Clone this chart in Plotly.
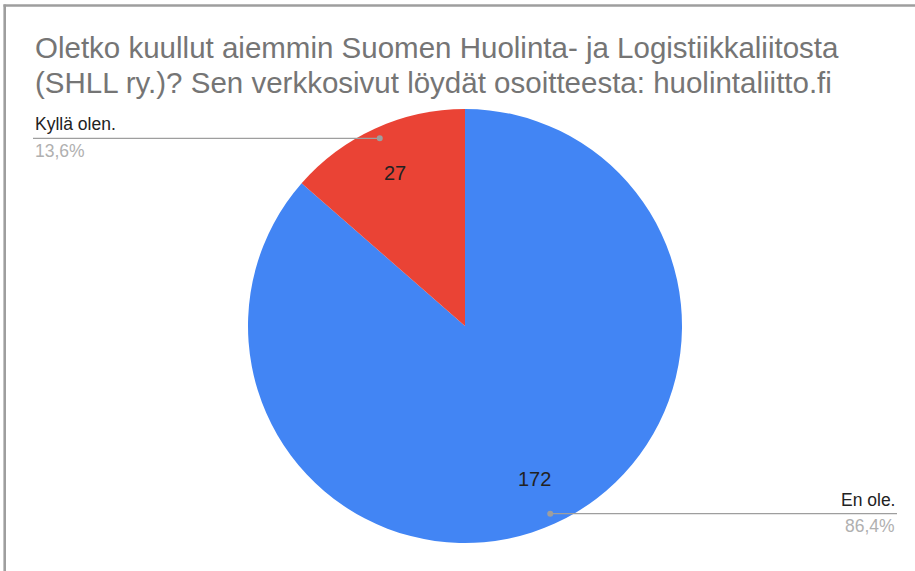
import math
import plotly.graph_objects as go

# ---- data ----
labels = ["En ole.", "Kyllä olen."]
values = [172, 27]
colors = ["#4285F4", "#EA4335"]
title_lines = [
    "Oletko kuullut aiemmin Suomen Huolinta- ja Logistiikkaliitosta",
    "(SHLL ry.)? Sen verkkosivut löydät osoitteesta: huolintaliitto.fi",
]

# ---- layout geometry (pixels) ----
W, H = 915, 571
CX, CY, R = 465, 326, 217
LEFT_X, RIGHT_X = 33, 897
FONT = "Liberation Sans, Arial, sans-serif"

def px(x):
    return x / W

def py(y):
    return 1 - y / H

fig = go.Figure(
    go.Pie(
        labels=labels,
        values=values,
        sort=False,
        direction="clockwise",
        rotation=0,
        marker=dict(colors=colors, line=dict(width=0)),
        textinfo="none",
        domain=dict(x=[px(CX - R), px(CX + R)], y=[py(CY + R), py(CY - R)]),
        showlegend=False,
        hoverinfo="label+value+percent",
    )
)

annotations = []
shapes = []
total = sum(values)
cum = 0
for lab, v in zip(labels, values):
    mid = (cum + v / 2) / total * 2 * math.pi  # clockwise from top
    cum += v
    s, c = math.sin(mid), math.cos(mid)
    # value label inside slice
    vx, vy = CX + 0.775 * R * s, CY - 0.775 * R * c
    annotations.append(dict(
        x=px(vx), y=py(vy), xref="paper", yref="paper", text=str(v),
        showarrow=False, xanchor="center", yanchor="middle",
        font=dict(family=FONT, size=20, color="#222222"),
    ))
    # leader dot and line
    dx, dy = CX + 0.95 * R * s, CY - 0.95 * R * c
    endx = LEFT_X if s < 0 else RIGHT_X
    shapes.append(dict(type="line", xref="paper", yref="paper",
                       x0=px(dx), y0=py(dy), x1=px(endx), y1=py(dy),
                       line=dict(color="#9e9e9e", width=1.3)))
    shapes.append(dict(type="circle", xref="paper", yref="paper",
                       x0=px(dx - 3), x1=px(dx + 3), y0=py(dy + 3), y1=py(dy - 3),
                       fillcolor="#9e9e9e", line=dict(width=0)))
    anchor = "left" if s < 0 else "right"
    pct = f"{v / total * 100:.1f}".replace(".", ",") + "%"
    annotations.append(dict(
        x=px(endx), y=py(dy - 14), xref="paper", yref="paper", text=lab,
        showarrow=False, xanchor=anchor, yanchor="middle",
        font=dict(family=FONT, size=17.5, color="#222222"),
    ))
    annotations.append(dict(
        x=px(endx), y=py(dy + 12.5), xref="paper", yref="paper", text=pct,
        showarrow=False, xanchor=anchor, yanchor="middle",
        font=dict(family=FONT, size=17.5, color="#b0b0b0"),
    ))

# title, one annotation per line
TITLE_SIZE = 29.5
for i, line in enumerate(title_lines):
    baseline = 58 + 35 * i
    annotations.append(dict(
        x=px(LEFT_X), y=py(baseline - 0.35 * TITLE_SIZE), xref="paper", yref="paper",
        text=line, showarrow=False, xanchor="left", yanchor="middle",
        font=dict(family=FONT, size=TITLE_SIZE, color="#757575"),
    ))

# frame lines (top and left)
shapes.append(dict(type="line", xref="paper", yref="paper", x0=px(3.5), x1=1, y0=py(5.5), y1=py(5.5),
                   line=dict(color="#9e9e9e", width=2.3)))
shapes.append(dict(type="line", xref="paper", yref="paper", x0=px(4.7), x1=px(4.7), y0=py(4.5), y1=0,
                   line=dict(color="#9e9e9e", width=2.6)))

fig.update_layout(
    width=W, height=H,
    margin=dict(l=0, r=0, t=0, b=0),
    paper_bgcolor="white",
    plot_bgcolor="white",
    annotations=annotations,
    shapes=shapes,
)

fig.write_html("out.html", config={"displayModeBar": False},
               post_script="document.body.style.margin='0';")
